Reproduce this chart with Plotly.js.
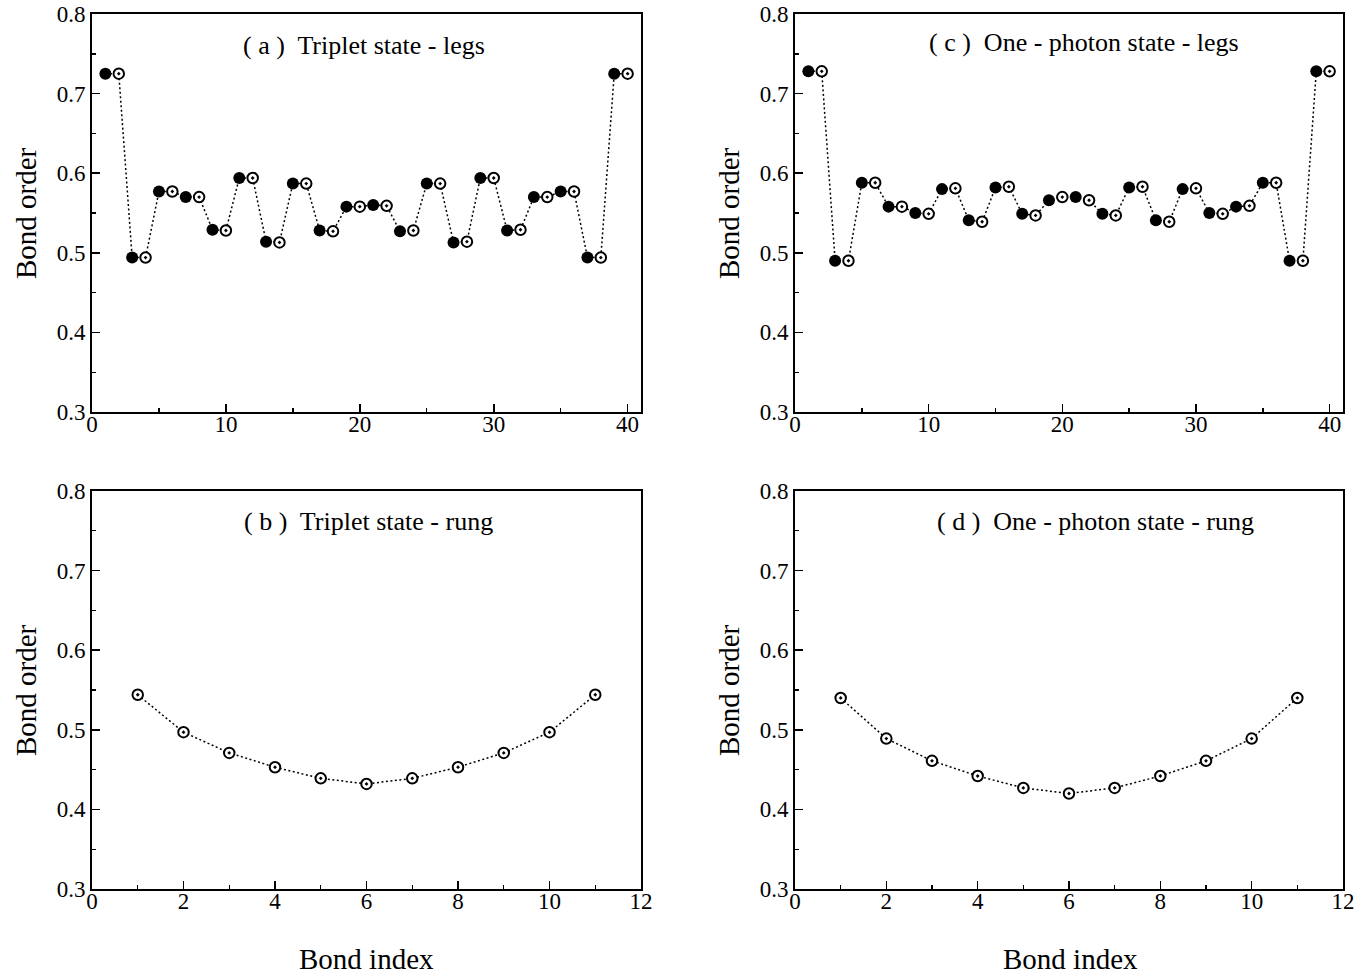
<!DOCTYPE html>
<html>
<head>
<meta charset="utf-8">
<script src="https://cdn.plot.ly/plotly-3.0.1.min.js"></script>
<style>html,body{margin:0;padding:0;background:#fff;}#plot{width:1369px;height:975px;}</style>
</head>
<body>
<div id="plot"></div>
<script>
// Bond index (legs: 1..40, rungs: 1..11)
const legIndex = [1,2,3,4,5,6,7,8,9,10,11,12,13,14,15,16,17,18,19,20,21,22,23,24,25,26,27,28,29,30,31,32,33,34,35,36,37,38,39,40];
const rungIndex = [1,2,3,4,5,6,7,8,9,10,11];

// (a) Triplet state - legs
const tripletLegs = [0.725,0.725,0.494,0.494,0.577,0.577,0.570,0.570,0.529,0.528,
                     0.594,0.594,0.514,0.513,0.587,0.587,0.528,0.527,0.558,0.558,
                     0.560,0.559,0.527,0.528,0.587,0.587,0.513,0.514,0.594,0.594,
                     0.528,0.529,0.570,0.570,0.577,0.577,0.494,0.494,0.725,0.725];
// (b) Triplet state - rung
const tripletRung = [0.544,0.497,0.471,0.453,0.439,0.432,0.439,0.453,0.471,0.497,0.544];
// (c) One-photon state - legs
const photonLegs = [0.728,0.728,0.490,0.490,0.588,0.588,0.558,0.558,0.550,0.549,
                    0.580,0.581,0.541,0.539,0.582,0.583,0.549,0.547,0.566,0.570,
                    0.570,0.566,0.549,0.547,0.582,0.583,0.541,0.539,0.580,0.581,
                    0.550,0.549,0.558,0.559,0.588,0.588,0.490,0.490,0.728,0.728];
// (d) One-photon state - rung
const photonRung = [0.540,0.489,0.461,0.442,0.427,0.420,0.427,0.442,0.461,0.489,0.540];

const panelTitles = ['( a )  Triplet state - legs','( b )  Triplet state - rung',
                     '( c )  One - photon state - legs','( d )  One - photon state - rung'];
const yTitle = 'Bond order';
const xTitle = 'Bond index';

const FONT = "'Liberation Serif', 'Times New Roman', Times, serif";
const lineStyle = {color:'#000', width:1.5, dash:'2px,2.5px'};
const filledMarker = {symbol:'circle', size:12, color:'#000', line:{color:'#000', width:0}};
const openMarker = {symbol:'circle-dot', size:10.5, color:'#fff', line:{color:'#000', width:2}};

function legTraces(vals, xa, ya){
  const xo=[], yo=[], xe=[], ye=[];
  legIndex.forEach((x,i)=>{ if(x%2===1){xo.push(x);yo.push(vals[i]);} else {xe.push(x);ye.push(vals[i]);} });
  return [
    {x:legIndex, y:vals, mode:'lines', line:lineStyle, xaxis:xa, yaxis:ya, hoverinfo:'skip'},
    {x:xo, y:yo, mode:'markers', marker:filledMarker, xaxis:xa, yaxis:ya},
    {x:xe, y:ye, mode:'markers', marker:openMarker, xaxis:xa, yaxis:ya}
  ];
}
function rungTraces(vals, xa, ya){
  return [
    {x:rungIndex, y:vals, mode:'lines', line:lineStyle, xaxis:xa, yaxis:ya, hoverinfo:'skip'},
    {x:rungIndex, y:vals, mode:'markers', marker:openMarker, xaxis:xa, yaxis:ya}
  ];
}

const data = [].concat(
  legTraces(tripletLegs,'x','y'),
  rungTraces(tripletRung,'x3','y3'),
  legTraces(photonLegs,'x2','y2'),
  rungTraces(photonRung,'x4','y4')
);

const W=1369, H=975;
const px = v => v/W, py = v => 1 - v/H;
const colL=[px(92),px(641)], colR=[px(795),px(1343)];
const rowT=[py(412),py(14)], rowB=[py(889),py(491)];

function axisBase(){
  return {showline:true, mirror:true, linecolor:'#000', linewidth:2,
    ticks:'inside', ticklen:8, tickwidth:1.6, tickcolor:'#000',
    showgrid:false, zeroline:false, fixedrange:true,
    tickfont:{family:FONT, size:23, color:'#000'}};
}
function xLegs(dom, anchor){
  return Object.assign(axisBase(), {domain:dom, anchor:anchor, range:[0,41], tickvals:[0,10,20,30,40],
    ticklabelstandoff:-10,
    minor:{tickvals:[5,15,25,35], ticks:'inside', ticklen:4, tickwidth:1.4, tickcolor:'#000', showgrid:false}});
}
function xRung(dom, anchor){
  return Object.assign(axisBase(), {domain:dom, anchor:anchor, range:[0,12], tickvals:[0,2,4,6,8,10,12],
    ticklabelstandoff:-10,
    minor:{tickvals:[1,3,5,7,9,11], ticks:'inside', ticklen:4, tickwidth:1.4, tickcolor:'#000', showgrid:false}});
}
function yAx(dom, anchor){
  return Object.assign(axisBase(), {domain:dom, anchor:anchor, range:[0.3,0.8],
    tickvals:[0.3,0.4,0.5,0.6,0.7,0.8], ticktext:['0.3','0.4','0.5','0.6','0.7','0.8'],
    minor:{tickvals:[0.35,0.45,0.55,0.65,0.75], ticks:'inside', ticklen:4, tickwidth:1.4, tickcolor:'#000', showgrid:false}});
}

function ann(text, x, y, opts){
  return Object.assign({text:text, x:x, y:y, xref:'paper', yref:'paper', showarrow:false,
    xanchor:'center', yanchor:'middle', font:{family:FONT, size:26, color:'#000'}}, opts||{});
}
const bigFont = {family:FONT, size:29, color:'#000'};

const annotations = [
  ann(panelTitles[0], px(364), py(46)),
  ann(panelTitles[1], px(368), py(521)),
  ann(panelTitles[2], px(1084), py(42)),
  ann(panelTitles[3], px(1095), py(521)),
  ann(yTitle, px(26), py(213), {textangle:-90, font:bigFont}),
  ann(yTitle, px(26), py(690), {textangle:-90, font:bigFont}),
  ann(yTitle, px(729), py(213), {textangle:-90, font:bigFont}),
  ann(yTitle, px(729), py(690), {textangle:-90, font:bigFont}),
  ann(xTitle, px(366), py(959), {font:bigFont}),
  ann(xTitle, px(1070), py(959), {font:bigFont})
];

const layout = {
  width:W, height:H, margin:{l:0,r:0,t:0,b:0}, showlegend:false,
  paper_bgcolor:'#fff', plot_bgcolor:'#fff',
  font:{family:FONT, color:'#000'},
  xaxis:xLegs(colL,'y'), yaxis:yAx(rowT,'x'),
  xaxis2:xLegs(colR,'y2'), yaxis2:yAx(rowT,'x2'),
  xaxis3:xRung(colL,'y3'), yaxis3:yAx(rowB,'x3'),
  xaxis4:xRung(colR,'y4'), yaxis4:yAx(rowB,'x4'),
  annotations:annotations
};

Plotly.newPlot('plot', data, layout, {displayModeBar:false, staticPlot:true});
</script>
</body>
</html>
